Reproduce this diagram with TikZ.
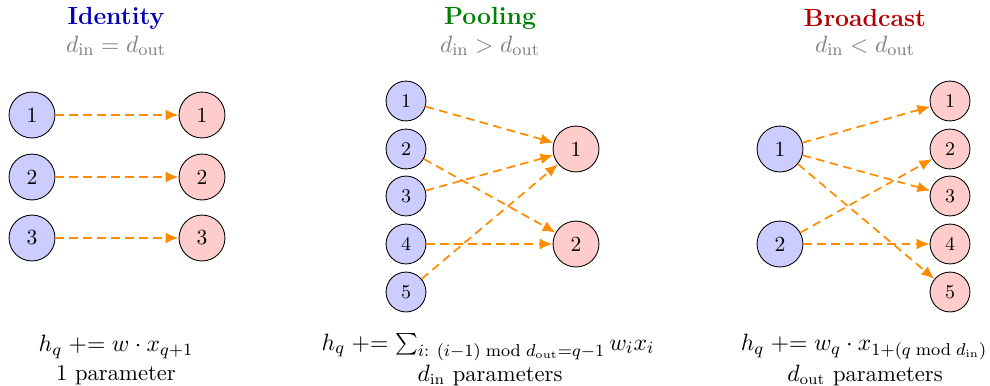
\documentclass[tikz,border=0pt]{standalone}
\usetikzlibrary{arrows.meta}
\definecolor{edgeorange}{RGB}{255,140,0}
\begin{document}
\begin{tikzpicture}[x=0.4638pt,y=-0.4638pt,
  innode/.style={circle,draw=black,fill=blue!20,minimum size=21.3pt,inner sep=0pt},
  outnode/.style={circle,draw=black,fill=red!20,minimum size=21.3pt,inner sep=0pt},
  smallin/.style={innode,minimum size=18.5pt,font=\small},
  smallout/.style={outnode,minimum size=18.5pt,font=\small},
  conn/.style={draw=edgeorange,thick,dash pattern=on 4pt off 2.5pt,-{Latex[length=6pt,width=5pt]}},
  ttl/.style={font=\fontsize{11.5}{13}\selectfont\bfseries},
  sub/.style={text=gray,font=\fontsize{11}{13}\selectfont},
  frm/.style={font=\fontsize{11}{13}\selectfont},
  txt/.style={font=\fontsize{10.5}{12}\selectfont}]
\useasboundingbox (0,0) rectangle (990,385);
% Identity
\node[ttl,text=blue!70!black] (t1) at (116,18) {Identity};
\node[sub] (s1) at (116,46) {$d_{\mathrm{in}} = d_{\mathrm{out}}$};
\foreach \i/\y in {1/115,2/177,3/238}{
  \node[innode] (ia\i) at (32,\y) {\i};
  \node[outnode] (oa\i) at (202,\y) {\i};
  \draw[conn] (ia\i) -- (oa\i);
}
\node[frm] (f1) at (116,347) {$h_q \mathrel{+}= w\cdot x_{q+1}$};
\node[txt] (p1) at (116,375) {1 parameter};
% Pooling
\node[ttl,text=green!50!black] (t2) at (490,18) {Pooling};
\node[sub] (s2) at (490,46) {$d_{\mathrm{in}} > d_{\mathrm{out}}$};
\foreach \i/\y in {1/101,2/149,3/196,4/244,5/292}{
  \node[smallin] (ib\i) at (406,\y) {\i};
}
\node[outnode] (ob1) at (576,149) {1};
\node[outnode] (ob2) at (576,244) {2};
\draw[conn] (ib1) -- (ob1);
\draw[conn] (ib2) -- (ob2);
\draw[conn] (ib3) -- (ob1);
\draw[conn] (ib4) -- (ob2);
\draw[conn] (ib5) -- (ob1);
\node[frm] (f2) at (488,347) {$h_q \mathrel{+}= \sum_{i:\ (i-1) \bmod d_{\mathrm{out}}=q-1} w_i x_i$};
\node[txt] (p2) at (490,375) {$d_{\mathrm{in}}$ parameters};
% Broadcast
\node[ttl,text=red!70!black] (t3) at (865,18) {Broadcast};
\node[sub] (s3) at (865,46) {$d_{\mathrm{in}} < d_{\mathrm{out}}$};
\node[innode] (ic1) at (780,149) {1};
\node[innode] (ic2) at (780,244) {2};
\foreach \i/\y in {1/101,2/149,3/196,4/244,5/292}{
  \node[smallout] (oc\i) at (950,\y) {\i};
}
\draw[conn] (ic1) -- (oc1);
\draw[conn] (ic1) -- (oc3);
\draw[conn] (ic1) -- (oc5);
\draw[conn] (ic2) -- (oc2);
\draw[conn] (ic2) -- (oc4);
\node[frm] (f3) at (864,347) {$h_q \mathrel{+}= w_q\cdot x_{1+(q \bmod d_{\mathrm{in}})}$};
\node[txt] (p3) at (865,375) {$d_{\mathrm{out}}$ parameters};
\end{tikzpicture}
\end{document}
